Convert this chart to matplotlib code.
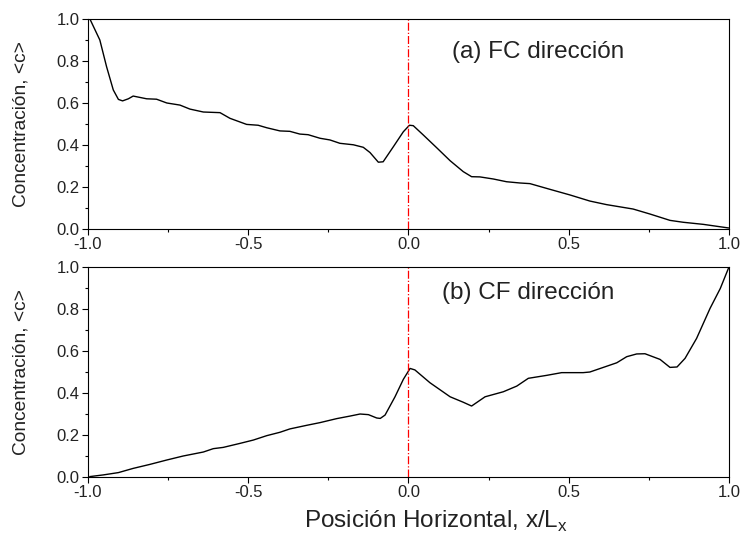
import matplotlib
matplotlib.use("Agg")
import matplotlib.pyplot as plt
from matplotlib.ticker import MultipleLocator

plt.rcParams['font.family'] = ['Liberation Sans', 'DejaVu Sans']

# (a) FC dirección
x_fc = [-0.994, -0.963, -0.942, -0.921, -0.905, -0.892, -0.874, -0.859, -0.817, -0.786,
        -0.754, -0.713, -0.682, -0.640, -0.588, -0.557, -0.505, -0.469, -0.442, -0.401,
        -0.370, -0.339, -0.313, -0.276, -0.245, -0.214, -0.172, -0.141, -0.120, -0.094,
        -0.079, -0.047, -0.016, 0.003, 0.015, 0.046, 0.088, 0.130, 0.171, 0.197,
        0.223, 0.265, 0.306, 0.348, 0.379, 0.441, 0.504, 0.566, 0.618, 0.701,
        0.754, 0.816, 0.857, 0.920, 0.998]
c_fc = [1.000, 0.900, 0.773, 0.662, 0.617, 0.610, 0.620, 0.633, 0.620, 0.618,
        0.600, 0.590, 0.571, 0.557, 0.554, 0.527, 0.498, 0.494, 0.482, 0.467,
        0.465, 0.452, 0.449, 0.432, 0.424, 0.408, 0.401, 0.389, 0.364, 0.318,
        0.320, 0.392, 0.463, 0.494, 0.492, 0.448, 0.387, 0.325, 0.273, 0.249,
        0.248, 0.238, 0.225, 0.219, 0.216, 0.189, 0.162, 0.133, 0.116, 0.095,
        0.071, 0.041, 0.032, 0.022, 0.005]

# (b) CF dirección
x_cf = [-0.994, -0.952, -0.905, -0.859, -0.807, -0.754, -0.703, -0.640, -0.609, -0.578,
        -0.526, -0.484, -0.442, -0.401, -0.370, -0.318, -0.276, -0.224, -0.183, -0.151,
        -0.125, -0.099, -0.088, -0.073, -0.042, -0.016, 0.005, 0.020, 0.067, 0.130,
        0.171, 0.197, 0.239, 0.296, 0.338, 0.374, 0.431, 0.478, 0.545, 0.566,
        0.608, 0.650, 0.681, 0.712, 0.738, 0.785, 0.816, 0.838, 0.863, 0.899,
        0.941, 0.973, 1.000]
c_cf = [0.002, 0.010, 0.021, 0.041, 0.060, 0.081, 0.100, 0.119, 0.135, 0.141,
        0.160, 0.176, 0.197, 0.213, 0.229, 0.246, 0.259, 0.278, 0.290, 0.300,
        0.297, 0.281, 0.279, 0.295, 0.382, 0.465, 0.517, 0.510, 0.449, 0.382,
        0.356, 0.338, 0.382, 0.406, 0.433, 0.470, 0.484, 0.497, 0.497, 0.500,
        0.522, 0.544, 0.573, 0.586, 0.587, 0.560, 0.522, 0.524, 0.565, 0.660,
        0.803, 0.898, 1.000]

panels = [
    (x_fc, c_fc, "(a) FC dirección", 0.136, 0.843),
    (x_cf, c_cf, "(b) CF dirección", 0.104, 0.875),
]

fig = plt.figure(figsize=(7.43, 5.35), dpi=100)
ax_top = fig.add_axes([0.1184, 0.5720, 0.8627, 0.3925])
ax_bot = fig.add_axes([0.1184, 0.1084, 0.8627, 0.3925])

for ax, (xs, cs, label, tx, ty) in zip([ax_top, ax_bot], panels):
    ax.plot(xs, cs, color='black', lw=1.0)
    ax.axvline(0.0, color='red', lw=0.9, ls='-.')
    ax.set_xlim(-1.0, 1.0)
    ax.set_ylim(0.0, 1.0)
    ax.xaxis.set_major_locator(MultipleLocator(0.5))
    ax.xaxis.set_minor_locator(MultipleLocator(0.25))
    ax.yaxis.set_major_locator(MultipleLocator(0.2))
    ax.yaxis.set_minor_locator(MultipleLocator(0.1))
    ax.tick_params(which='both', direction='out', top=False, right=False,
                   labelsize=12, colors='black', labelcolor='#222222', width=0.8)
    ax.tick_params(which='major', length=4, pad=2)
    ax.tick_params(which='minor', length=2.5)
    ax.xaxis.set_major_formatter(plt.FuncFormatter(lambda v, p: f"{v:.1f}"))
    ax.yaxis.set_major_formatter(plt.FuncFormatter(lambda v, p: f"{v:.1f}"))
    for s in ax.spines.values():
        s.set_linewidth(0.8)
    ax.set_ylabel("Concentración, <c>", fontsize=13.8, color='#222222')
    ax.yaxis.set_label_coords(-0.092, 0.5)
    ax.text(tx, ty, label, fontsize=17.5, va='center', ha='left', color='#222222')

ax_bot.set_xlabel("Posición Horizontal, x/L$_\\mathregular{x}$", fontsize=17.5,
                  color='#222222', va='baseline')
ax_bot.xaxis.set_label_coords(0.543, -0.243)

fig.savefig("out.png", dpi=100)
